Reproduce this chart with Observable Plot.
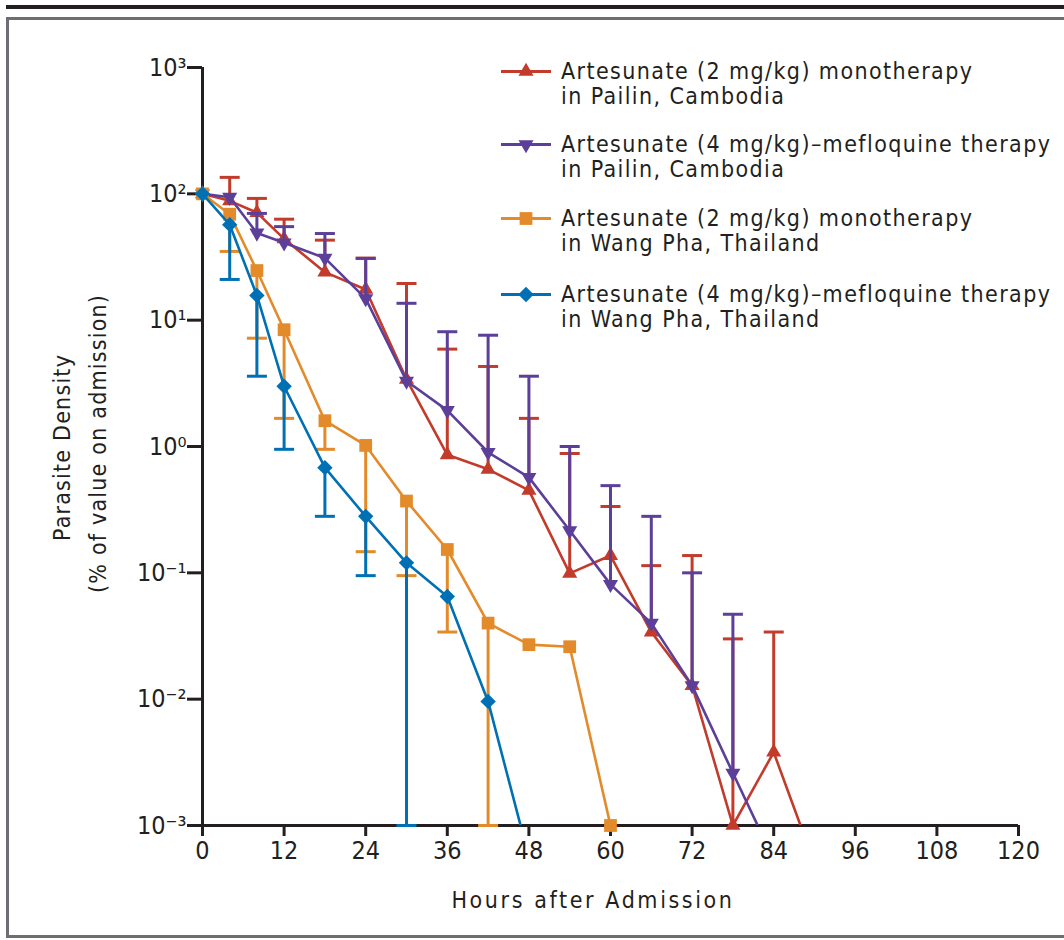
<!DOCTYPE html>
<html>
<head>
<meta charset="utf-8">
<script src="https://cdn.jsdelivr.net/npm/d3@7"></script>
<script src="https://cdn.jsdelivr.net/npm/@observablehq/plot@0.6"></script>
<style>
  body { margin: 0; background: #fff; }
  #wrap { position: relative; width: 1064px; height: 940px; overflow: hidden; background: #fff;
          font-family: "Liberation Sans Narrow", "DejaVu Sans Condensed", "Liberation Sans", sans-serif; color: #231f20; }
  .abs { position: absolute; }
  #chart { position: absolute; left: 0; top: 0; }
  .leg { position: absolute; left: 500px; display: flex; align-items: flex-start; }
  .leg svg { flex: none; }
  .leg .txt { margin-left: 9px; font-size: 23px; line-height: 25px; letter-spacing: 1.4px; white-space: nowrap; }
  .ylab { position: absolute; white-space: nowrap; font-size: 23px; letter-spacing: 1.2px; transform-origin: 0 0; }
</style>
</head>
<body>
<div id="wrap">
  <div class="abs" style="left:6px;top:5px;width:1100px;height:4px;background:#231f20"></div>
  <div class="abs" style="left:6px;top:17px;width:1100px;height:921px;border:3px solid #6d6e71;box-sizing:border-box"></div>
  <div id="chart"></div>
  <div id="legend"></div>
  <div class="abs" id="xlab" style="left:0;width:1186px;top:887px;text-align:center;font-size:23px;letter-spacing:2.6px">Hours after Admission</div>
  <div class="ylab" id="yl1">Parasite Density</div>
  <div class="ylab" id="yl2">(% of value on admission)</div>
</div>
<script>
// ---- data ----
const seriesNames = [
  ["Artesunate (2 mg/kg) monotherapy", "in Pailin, Cambodia"],
  ["Artesunate (4 mg/kg)–mefloquine therapy", "in Pailin, Cambodia"],
  ["Artesunate (2 mg/kg) monotherapy", "in Wang Pha, Thailand"],
  ["Artesunate (4 mg/kg)–mefloquine therapy", "in Wang Pha, Thailand"]
];
const seriesColors = ["#c23b2b", "#5b3f99", "#e38a2a", "#0070b5"];

const redHours   = [0, 4, 8, 12, 18, 24, 30, 36, 42, 48, 54, 60, 66, 72, 78, 84, 90];
const redValues  = [100, 88, 71, 44, 24, 17.5, 3.4, 0.86, 0.66, 0.45, 0.099, 0.137, 0.034, 0.0128, 0.001, 0.0038, 0.0005];
const redUpper   = [null, 135, 92, 63, 43, 31, 19.5, 5.9, 4.3, 1.67, 0.88, 0.335, 0.114, 0.137, 0.030, 0.034, null];

const purpleHours  = [0, 4, 8, 12, 18, 24, 30, 36, 42, 48, 54, 60, 66, 72, 78, 84];
const purpleValues = [100, 94, 49, 41, 31, 14.8, 3.3, 1.93, 0.90, 0.57, 0.216, 0.081, 0.040, 0.0128, 0.0026, 0.00054];
const purpleUpper  = [null, null, 70, 55, 48.5, 30.8, 13.6, 8.1, 7.6, 3.6, 1.0, 0.49, 0.28, 0.10, 0.047, null];

const orangeHours  = [0, 4, 8, 12, 18, 24, 30, 36, 42, 48, 54, 60];
const orangeValues = [100, 69, 24.7, 8.4, 1.6, 1.02, 0.37, 0.153, 0.040, 0.027, 0.026, 0.001];
const orangeLower  = [null, 35, 7.2, 1.67, 0.95, 0.147, 0.095, 0.034, 0.001, null, null, null];

const blueHours  = [0, 4, 8, 12, 18, 24, 30, 36, 42, 48];
const blueValues = [100, 57, 15.7, 3.0, 0.68, 0.28, 0.12, 0.065, 0.0096, 0.00056];
const blueLower  = [null, 21, 3.6, 0.95, 0.28, 0.095, 0.001, null, null, null];

const xTicks = [0, 12, 24, 36, 48, 60, 72, 84, 96, 108, 120];
const yTicks = [1e-3, 1e-2, 1e-1, 1, 10, 100, 1000];
const yTickLabels = ["10⁻³", "10⁻²", "10⁻¹", "10⁰", "10¹", "10²", "10³"];

// ---- symbols ----
const triangleDown = {
  draw(context, size) {
    const sqrt3 = Math.sqrt(3);
    const y = -Math.sqrt(size / (sqrt3 * 3));
    context.moveTo(0, -y * 2);
    context.lineTo(-sqrt3 * y, y);
    context.lineTo(sqrt3 * y, y);
    context.closePath();
  }
};
const squareDiamond = {
  draw(context, size) {
    const d = Math.sqrt(size / Math.PI) * 1.1;
    context.moveTo(0, -d);
    context.lineTo(d, 0);
    context.lineTo(0, d);
    context.lineTo(-d, 0);
    context.closePath();
  }
};
const capSymbol = {
  draw(context, size) {
    const w = Math.sqrt(size / Math.PI);
    context.moveTo(-w, 0);
    context.lineTo(w, 0);
  }
};
const seriesSymbols = ["triangle", triangleDown, "square", squareDiamond];
const seriesR = [5.6, 5.6, 7.2, 7];

function rows(hours, values, err) {
  return hours.map((h, i) => ({h, v: values[i], e: err[i]}));
}
const allSeries = [
  rows(redHours, redValues, redUpper),
  rows(purpleHours, purpleValues, purpleUpper),
  rows(orangeHours, orangeValues, orangeLower),
  rows(blueHours, blueValues, blueLower)
];

const marks = [];
allSeries.forEach((data, k) => {
  const c = seriesColors[k];
  const withErr = data.filter(d => d.e != null);
  marks.push(Plot.line(data, {x: "h", y: "v", stroke: c, strokeWidth: 2.6, clip: true}));
  marks.push(Plot.ruleX(withErr, {x: "h", y1: "v", y2: "e", stroke: c, strokeWidth: 3}));
  marks.push(Plot.dot(withErr, {x: "h", y: "e", symbol: capSymbol, r: 10, stroke: c, strokeWidth: 3, fill: "none"}));
  marks.push(Plot.dot(data.filter(d => d.v >= 1e-3), {x: "h", y: "v", symbol: seriesSymbols[k], r: seriesR[k], fill: c, stroke: "none"}));
});

const plot = Plot.plot({
  width: 1064,
  height: 940,
  marginLeft: 202,
  marginRight: 46,
  marginTop: 67,
  marginBottom: 115,
  style: {fontFamily: '"Liberation Sans Narrow", "DejaVu Sans Condensed", "Liberation Sans", sans-serif', fontSize: "25px", color: "#231f20", background: "transparent"},
  x: {domain: [0, 120]},
  y: {type: "log", domain: [1e-3, 1e3]},
  marks: [
    Plot.ruleX([0], {stroke: "#231f20", strokeWidth: 3}),
    Plot.ruleY([1e-3], {stroke: "#231f20", strokeWidth: 3}),
    Plot.axisX({ticks: xTicks, tickSize: 11, tickPadding: 5, strokeWidth: 3, stroke: "#231f20", fill: "#231f20", label: null, tickFormat: d => String(d)}),
    Plot.axisY({ticks: yTicks, tickSize: 15, tickPadding: 1, strokeWidth: 3, stroke: "#231f20", fill: "#231f20", label: null,
      tickFormat: d => yTickLabels[Math.round(Math.log10(d)) + 3]}),
    ...marks
  ]
});
document.getElementById("chart").appendChild(plot);

// ---- legend ----
const legendY = [71, 144, 218, 294];
const legend = document.getElementById("legend");
seriesNames.forEach((lines, k) => {
  const div = document.createElement("div");
  div.className = "leg";
  div.style.top = (legendY[k] - 12.5) + "px";
  const svg = d3.create("svg").attr("width", 52).attr("height", 25);
  svg.append("line").attr("x1", 1).attr("x2", 51).attr("y1", 12.5).attr("y2", 12.5)
    .attr("stroke", seriesColors[k]).attr("stroke-width", 3);
  const sym = typeof seriesSymbols[k] === "string"
    ? {triangle: d3.symbolTriangle, square: d3.symbolSquare, diamond: d3.symbolDiamond}[seriesSymbols[k]]
    : seriesSymbols[k];
  svg.append("path").attr("transform", "translate(26,12.5)")
    .attr("d", d3.symbol(sym, seriesR[k] * seriesR[k] * Math.PI)())
    .attr("fill", seriesColors[k]);
  div.appendChild(svg.node());
  const t = document.createElement("div");
  t.className = "txt";
  t.innerHTML = lines.join("<br>");
  div.appendChild(t);
  legend.appendChild(div);
});

// ---- y label (rotated) ----
function placeY(id, cx, cy) {
  const el = document.getElementById(id);
  const w = el.offsetWidth, h = el.offsetHeight;
  el.style.left = (cx - h / 2) + "px";
  el.style.top = (cy + w / 2) + "px";
  el.style.transform = "rotate(-90deg)";
}
placeY("yl1", 62, 447);
placeY("yl2", 98, 443);
</script>
</body>
</html>
